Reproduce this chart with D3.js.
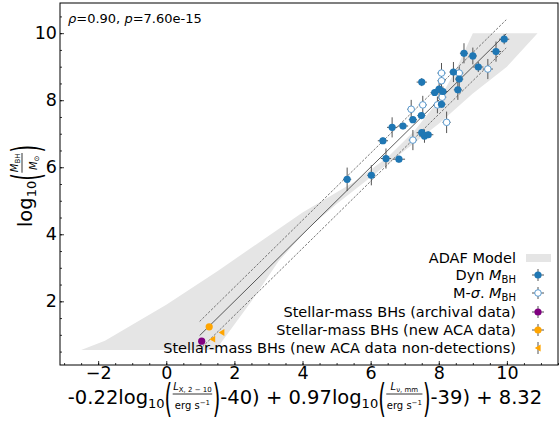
<!DOCTYPE html>
<html>
<head>
<meta charset="utf-8">
<script src="https://cdn.jsdelivr.net/npm/d3@7"></script>
<style>
body{margin:0;background:#fff}
text{font-family:"DejaVu Sans",sans-serif;fill:#000}
</style>
</head>
<body>
<svg id="chart"></svg>
<script>
// values

// dynamical black hole masses (filled blue)
var dynX = [9.92,8.74,9.00,9.68,9.16,7.50,8.43,8.60,8.56,7.88,8.01,8.12,8.08,7.49,7.24,6.63,6.95,6.36,7.50,7.58,7.69,6.45,6.83,5.31,6.02];
var dynY = [9.82,9.40,9.32,9.45,8.99,8.54,8.84,8.63,8.31,8.23,8.33,8.26,7.88,7.54,7.42,7.19,7.23,6.79,7.03,6.93,6.97,6.26,6.24,5.64,5.76];
var dynXerr = [0.15,0.12,0.12,0.15,0.15,0.15,0.12,0.12,0.12,0.12,0.12,0.15,0.12,0.12,0.12,0.15,0.15,0.15,0.15,0.15,0.15,0.15,0.18,0.12,0.12];
var dynYerr = [0.15,0.30,0.25,0.30,0.15,0.12,0.30,0.30,0.30,0.10,0.30,0.15,0.10,0.10,0.10,0.30,0.10,0.10,0.10,0.20,0.10,0.30,0.10,0.35,0.30];

// M-sigma masses (open circles)
var msigX = [8.08,8.08,8.60,9.44,8.10,7.96,7.53,7.19,8.23,7.24];
var msigY = [8.81,8.58,8.81,8.93,8.09,7.86,7.86,7.73,7.34,6.81];
var msigXerr = [0.12,0.12,0.12,0.15,0.12,0.12,0.12,0.12,0.12,0.12];
var msigYerr = [0.30,0.30,0.20,0.30,0.25,0.25,0.27,0.28,0.32,0.30];

// stellar-mass black holes
var archX = [1.04];
var archY = [0.81];
var acaX = [1.26];
var acaY = [1.24];
var nondetX = [1.36,1.63];
var nondetY = [0.87,1.07];

// one-to-one relation and its scatter
var fitX = [0.98,9.98];
var fitScatter = 0.42;

// ADAF model band: upper-left edge (bottom to top) then lower-right edge (top to bottom)
var adafLeftX = [-2.5,-1.8,0.0,1.5,3.0,4.0,5.5,6.5,7.3,8.0,8.5,9.0];
var adafLeftY = [0.55,0.82,1.9,2.9,3.95,4.65,5.55,6.3,7.1,8.0,8.9,10.0];
var adafRightX = [10.9,10.0,9.0,8.0,7.0,6.0,5.0,4.2,3.3,2.5,1.45];
var adafRightY = [10.0,9.0,8.2,7.3,6.5,5.7,4.9,4.2,3.2,2.0,0.55];

var xTicks = [-2,0,2,4,6,8,10];
var yTicks = [2,4,6,8,10];
var xMinor = d3.range(-3,11.6,0.5);
var yMinor = d3.range(0.5,10.9,0.5);

var blue = "#1f77b4";
var ecolor = "#555";

var width = 559, height = 422;
var plot = {left:60, right:558, top:3, bottom:365};

var svg = d3.select("#chart")
    .attr("width",width)
    .attr("height",height);

var xScale = d3.scaleLinear()
    .domain([-3.12,11.5])
    .range([plot.left,plot.right]);

var yScale = d3.scaleLinear()
    .domain([0.1,10.9])
    .range([plot.bottom,plot.top]);

svg.append("defs").append("clipPath").attr("id","clip")
    .append("rect")
    .attr("x",plot.left).attr("y",plot.top)
    .attr("width",plot.right-plot.left).attr("height",plot.bottom-plot.top);

var area = svg.append("g").attr("clip-path","url(#clip)");

// ADAF band
var bandPts = [];
adafLeftX.forEach(function(v,i){ bandPts.push([v,adafLeftY[i]]); });
adafRightX.forEach(function(v,i){ bandPts.push([v,adafRightY[i]]); });

area.append("path")
    .datum(bandPts)
    .attr("d",d3.line()
        .x(function(d){ return xScale(d[0]); })
        .y(function(d){ return yScale(d[1]); }))
    .attr("fill","#e5e5e5")
    .attr("stroke","none");

// fit lines
var drawFit = function(offset,dash)
{
    area.append("line")
        .attr("x1",xScale(fitX[0])).attr("y1",yScale(fitX[0]+offset))
        .attr("x2",xScale(fitX[1])).attr("y2",yScale(fitX[1]+offset))
        .attr("stroke",dash ? "#555" : "#333")
        .attr("stroke-width",0.8)
        .attr("stroke-dasharray",dash ? "2.5,1.5" : null);
}
drawFit(0,false);
drawFit(fitScatter,true);
drawFit(-fitScatter,true);

// error bars
var drawErrors = function(xs,ys,xe,ye)
{
    var g = area.append("g").attr("stroke",ecolor).attr("stroke-width",1);
    xs.forEach(function(v,i){
        g.append("line")
            .attr("x1",xScale(v)).attr("x2",xScale(v))
            .attr("y1",yScale(ys[i]-ye[i])).attr("y2",yScale(ys[i]+ye[i]));
        g.append("line")
            .attr("x1",xScale(v-xe[i])).attr("x2",xScale(v+xe[i]))
            .attr("y1",yScale(ys[i])).attr("y2",yScale(ys[i]));
    });
}
drawErrors(msigX,msigY,msigXerr,msigYerr);
drawErrors(dynX,dynY,dynXerr,dynYerr);

// markers
area.append("g").selectAll("circle")
    .data(msigX)
    .enter()
    .append("circle")
    .attr("cx",function(d){ return xScale(d); })
    .attr("cy",function(d,i){ return yScale(msigY[i]); })
    .attr("r",3.3)
    .attr("fill","#fff")
    .attr("stroke","#5b9bd0")
    .attr("stroke-width",1);

area.append("g").selectAll("circle")
    .data(dynX)
    .enter()
    .append("circle")
    .attr("cx",function(d){ return xScale(d); })
    .attr("cy",function(d,i){ return yScale(dynY[i]); })
    .attr("r",3.6)
    .attr("fill",blue);

area.append("g").selectAll("circle")
    .data(archX)
    .enter()
    .append("circle")
    .attr("cx",function(d){ return xScale(d); })
    .attr("cy",function(d,i){ return yScale(archY[i]); })
    .attr("r",3.6)
    .attr("fill","purple");

area.append("g").selectAll("circle")
    .data(acaX)
    .enter()
    .append("circle")
    .attr("cx",function(d){ return xScale(d); })
    .attr("cy",function(d,i){ return yScale(acaY[i]); })
    .attr("r",3.6)
    .attr("fill","orange");

var triangle = function(cx,cy)
{
    return "M"+(cx-3.2)+","+cy+"L"+(cx+2.6)+","+(cy-3.4)+"L"+(cx+2.6)+","+(cy+3.4)+"Z";
}
area.append("g").selectAll("path")
    .data(nondetX)
    .enter()
    .append("path")
    .attr("d",function(d,i){ return triangle(xScale(d),yScale(nondetY[i])); })
    .attr("fill","orange");

// axes with inward ticks
var axisFont = function(sel)
{
    sel.attr("font-size",17.5).attr("font-family","DejaVu Sans");
    sel.select(".domain").remove();
    sel.selectAll("line").attr("stroke","#000").attr("stroke-width",0.8);
}

svg.append("g")
    .attr("transform","translate(0,"+plot.bottom+")")
    .call(d3.axisBottom(xScale).tickValues(xMinor).tickSize(-2).tickFormat(""))
    .call(axisFont);
svg.append("g")
    .attr("transform","translate(0,"+plot.bottom+")")
    .call(d3.axisBottom(xScale).tickValues(xTicks).tickSize(-4).tickPadding(2))
    .call(axisFont);
svg.append("g")
    .attr("transform","translate("+plot.left+",0)")
    .call(d3.axisLeft(yScale).tickValues(yMinor).tickSize(-2).tickFormat(""))
    .call(axisFont);
svg.append("g")
    .attr("transform","translate("+plot.left+",0)")
    .call(d3.axisLeft(yScale).tickValues(yTicks).tickSize(-4).tickPadding(3))
    .call(axisFont);

svg.append("rect")
    .attr("x",plot.left).attr("y",plot.top)
    .attr("width",plot.right-plot.left).attr("height",plot.bottom-plot.top)
    .attr("fill","none").attr("stroke","#000").attr("stroke-width",1);

// correlation text
var corr = svg.append("text").attr("x",68).attr("y",23).attr("font-size",13);
corr.append("tspan").style("font-style","italic").text("ρ");
corr.append("tspan").text("=0.90, ");
corr.append("tspan").style("font-style","italic").text("p");
corr.append("tspan").text("=7.60e-15");

// legend
var legendY = [258,275,293,312,330,348];
var legendText = ["ADAF Model","Dyn ","M-","Stellar-mass BHs (archival data)","Stellar-mass BHs (new ACA data)","Stellar-mass BHs (new ACA data non-detections)"];
var lx = 538, tx = 516;

legendText.forEach(function(s,i){
    var t = svg.append("text")
        .attr("x",tx).attr("y",legendY[i]).attr("dy","0.36em")
        .attr("text-anchor","end").attr("font-size",14.5);
    t.append("tspan").text(s);
    if(i==1 || i==2)
    {
        if(i==2)
        {
            t.append("tspan").style("font-style","italic").text("σ");
            t.append("tspan").text(". ");
        }
        t.append("tspan").style("font-style","italic").text("M");
        t.append("tspan").attr("font-size",10).attr("dy",3).text("BH");
    }
});

svg.append("rect")
    .attr("x",526).attr("y",legendY[0]-4).attr("width",25).attr("height",8)
    .attr("fill","#e5e5e5");

var legendBars = function(cy,horiz)
{
    svg.append("line").attr("x1",lx).attr("x2",lx).attr("y1",cy-6).attr("y2",cy+6)
        .attr("stroke",ecolor).attr("stroke-width",1);
    if(horiz)
        svg.append("line").attr("x1",lx-6).attr("x2",lx+6).attr("y1",cy).attr("y2",cy)
            .attr("stroke",ecolor).attr("stroke-width",1);
}
legendBars(legendY[1],true);
svg.append("circle").attr("cx",lx).attr("cy",legendY[1]).attr("r",3.6).attr("fill",blue);
legendBars(legendY[2],true);
svg.append("circle").attr("cx",lx).attr("cy",legendY[2]).attr("r",3.3)
    .attr("fill","#fff").attr("stroke","#5b9bd0");
legendBars(legendY[3],true);
svg.append("circle").attr("cx",lx).attr("cy",legendY[3]).attr("r",3.6).attr("fill","purple");
legendBars(legendY[4],true);
svg.append("circle").attr("cx",lx).attr("cy",legendY[4]).attr("r",3.6).attr("fill","orange");
legendBars(legendY[5],false);
svg.append("path").attr("d",triangle(lx,legendY[5])).attr("fill","orange");

// math style axis labels, laid out piece by piece
var addRuns = function(t,runs)
{
    runs.forEach(function(r){
        var ts = t.append("tspan").text(r.t);
        if(r.it) ts.style("font-style","italic");
        if(r.size) ts.attr("font-size",r.size);
        if(r.dy) ts.attr("dy",r.dy);
    });
}

var mathLabel = function(g,parts)
{
    var cx = 0;
    parts.forEach(function(p){
        var t;
        if(p.frac)
        {
            var num = g.append("text").attr("font-size",p.size).attr("y",p.numY);
            addRuns(num,p.frac[0]);
            var den = g.append("text").attr("font-size",p.size).attr("y",p.denY);
            addRuns(den,p.frac[1]);
            var nw = num.node().getComputedTextLength();
            var dw = den.node().getComputedTextLength();
            var w = Math.max(nw,dw)+2;
            num.attr("x",cx+(w-nw)/2);
            den.attr("x",cx+(w-dw)/2);
            g.append("line")
                .attr("x1",cx+0.5).attr("x2",cx+w-0.5)
                .attr("y1",p.barY).attr("y2",p.barY)
                .attr("stroke","#000").attr("stroke-width",0.8);
            cx += w;
        }
        else if(p.paren)
        {
            t = g.append("text")
                .attr("font-size",p.size)
                .attr("transform","translate("+cx+","+p.cy+") scale(1,"+p.sy+")")
                .attr("y",0.32*p.size)
                .text(p.paren);
            cx += t.node().getComputedTextLength();
        }
        else
        {
            t = g.append("text").attr("x",cx).attr("y",p.dy||0)
                .attr("font-size",p.size).text(p.t);
            if(p.it) t.style("font-style","italic");
            cx += t.node().getComputedTextLength();
        }
    });
    return cx;
}

var fs = 19.5;
var lparen = {paren:"(",size:fs,cy:-4,sy:2.0};
var rparen = {paren:")",size:fs,cy:-4,sy:2.0};
var ergRuns = [{t:"erg s"},{t:"−1",size:7,dy:-4}];

var xLabel = svg.append("g");
var xw = mathLabel(xLabel,[
    {t:"-0.22log",size:fs},
    {t:"10",size:13,dy:4},
    lparen,
    {frac:[[{t:"L",it:1},{t:"X, 2 − 10",size:7,dy:2}],ergRuns],size:10,numY:-14,denY:5,barY:-10},
    rparen,
    {t:"-40) + 0.97log",size:fs},
    {t:"10",size:13,dy:4},
    lparen,
    {frac:[[{t:"L",it:1},{t:"ν, mm",size:7,dy:2}],ergRuns],size:10,numY:-14,denY:5,barY:-10},
    rparen,
    {t:"-39) + 8.32",size:fs}
]);
xLabel.attr("transform","translate("+(305-xw/2)+",404)");

var yLabel = svg.append("g");
var yw = mathLabel(yLabel,[
    {t:"log",size:fs},
    {t:"10",size:13,dy:4},
    lparen,
    {frac:[[{t:"M",it:1},{t:"BH",size:7,dy:2}],[{t:"M",it:1},{t:"⊙",size:7,dy:2}]],size:10,numY:-14,denY:5,barY:-10},
    rparen
]);
yLabel.attr("transform","translate(32,186) rotate(-90) translate("+(-yw/2)+",0)");
</script>
</body>
</html>
